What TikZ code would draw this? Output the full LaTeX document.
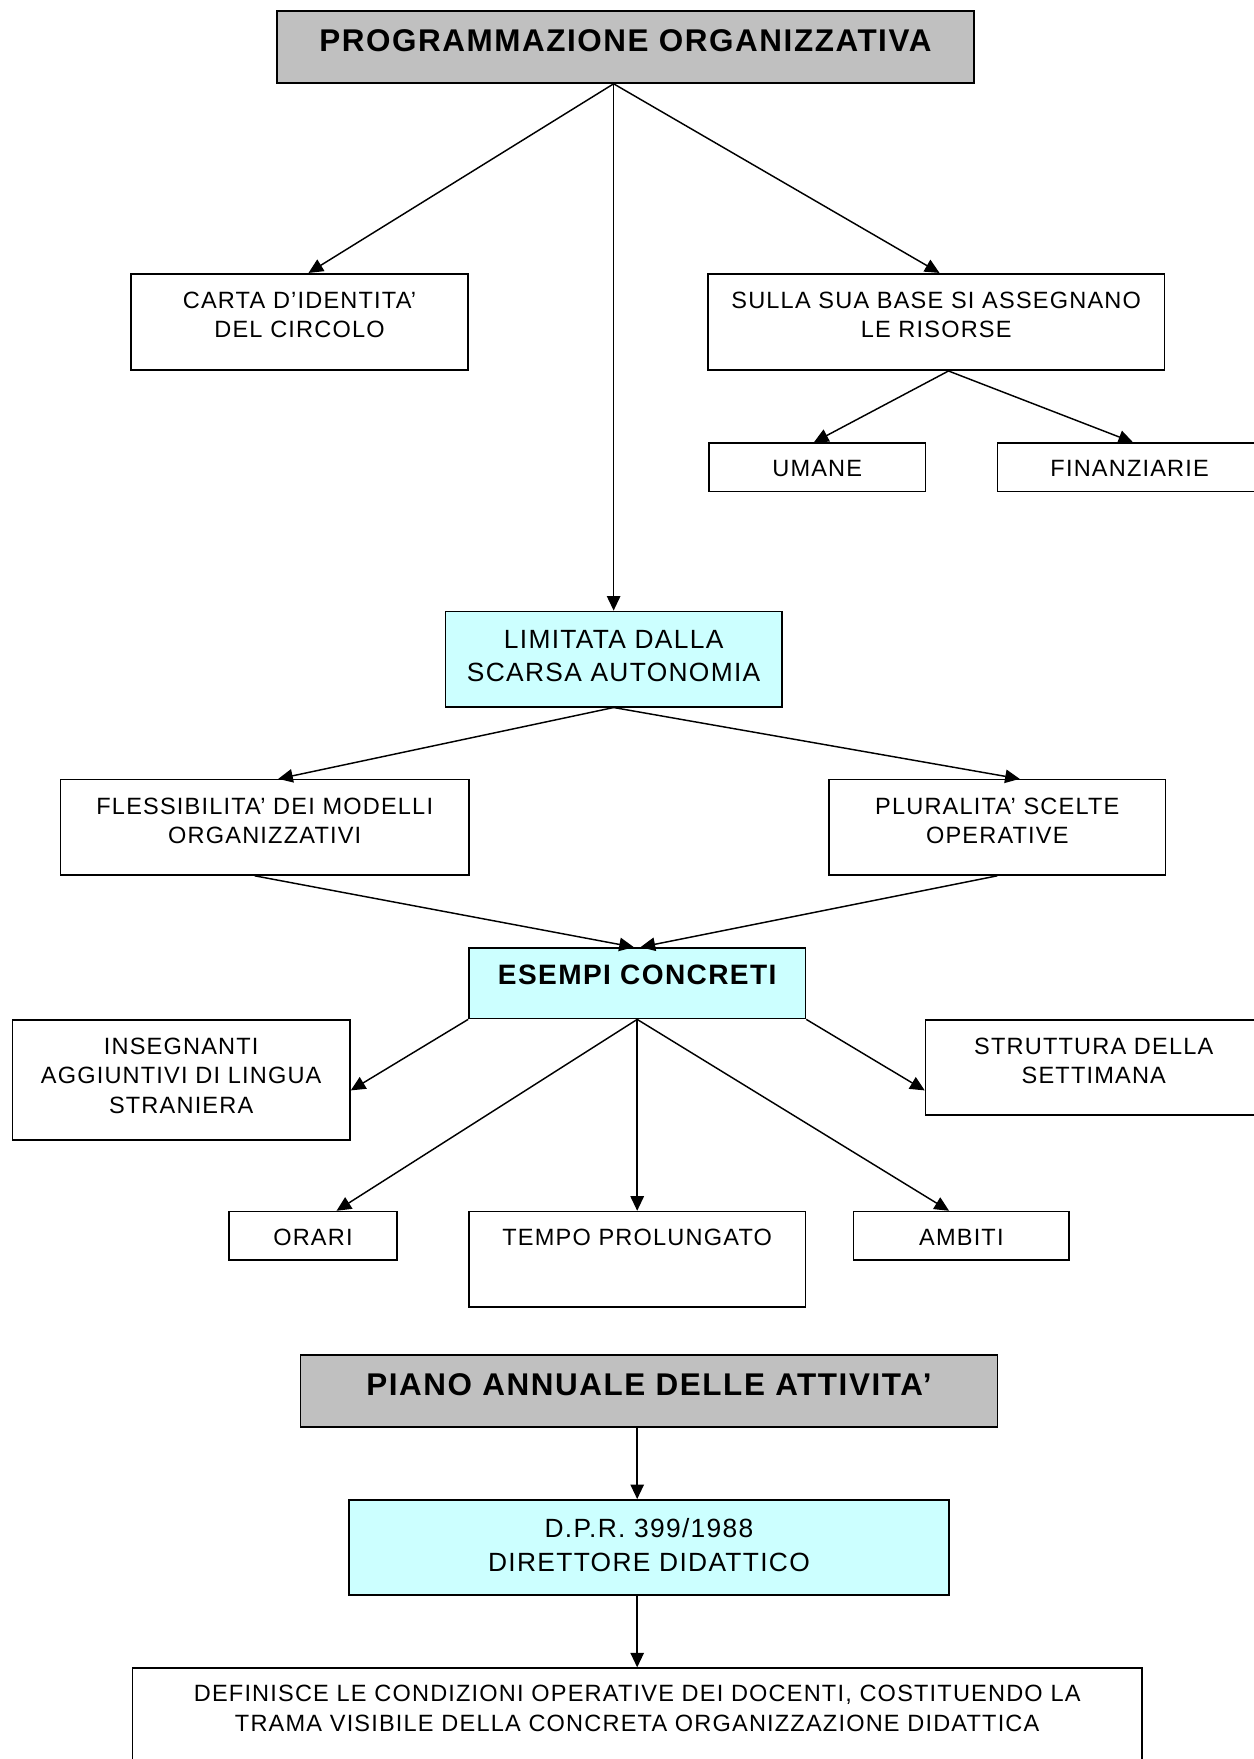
\documentclass[tikz,border=0pt]{standalone}
\usepackage{fontspec}
\setmainfont{Liberation Sans}[LetterSpace=5]
\usetikzlibrary{positioning,calc,arrows.meta}

\tikzset{
  box/.style={draw, line width=1.4pt, inner sep=0pt},
  greybox/.style={box, fill={rgb, 255:red, 192; green, 192; blue, 192 }},
  cyanbox/.style={box, fill={rgb, 255:red, 204; green, 255; blue, 255 }},
  txt/.style={inner sep=0pt, align=center, font=\fontsize{21}{26}\selectfont},
  bigtxt/.style={txt, font=\fontsize{23.5}{30}\selectfont},
  headtxt/.style={txt, font=\fontsize{28}{34}\selectfont\bfseries},
  link/.style={line width=1.3pt, -{Triangle[length=13pt,width=12pt]}}
}

\begin{document}
\begin{tikzpicture}[x=1pt,y=1pt,yscale=-1,xscale=1]
\useasboundingbox (0,0) rectangle (1117,1568);

%Shape: Rectangle [programmazione]
\node[greybox, minimum width=621pt, minimum height=64pt] (prog) at (557.5,42) {};
% Text Node
\node[headtxt, below=17pt of prog.north] (progT) {PROGRAMMAZIONE ORGANIZZATIVA};

%Shape: Rectangle [carta]
\node[box, minimum width=300pt, minimum height=86pt] (carta) at (267,287) {};
% Text Node
\node[txt, below=17pt of carta.north] (cartaT) {CARTA D’IDENTITA’\\DEL CIRCOLO};

%Shape: Rectangle [risorse]
\node[box, minimum width=407pt, minimum height=86pt] (risorse) at (834.5,287) {};
% Text Node
\node[txt, below=17pt of risorse.north] (risorseT) {SULLA SUA BASE SI ASSEGNANO\\LE RISORSE};

%Shape: Rectangle [umane]
\node[box, minimum width=193pt, minimum height=43pt] (umane) at (728.5,416.5) {};
% Text Node
\node[txt, below=16pt of umane.north] (umaneT) {UMANE};

%Shape: Rectangle [finanziarie]
\node[box, minimum width=236pt, minimum height=43pt] (finanz) at (1007,416.5) {};
% Text Node
\node[txt, below=16pt of finanz.north] (finanzT) {FINANZIARIE};

%Shape: Rectangle [limitata]
\node[cyanbox, minimum width=300pt, minimum height=85pt] (limit) at (547,587.5) {};
% Text Node
\node[bigtxt, below=17pt of limit.north] (limitT) {LIMITATA DALLA\\SCARSA AUTONOMIA};

%Shape: Rectangle [flessibilita]
\node[box, minimum width=364pt, minimum height=85pt] (fless) at (236,737.5) {};
% Text Node
\node[txt, below=17pt of fless.north] (flessT) {FLESSIBILITA’ DEI MODELLI\\ORGANIZZATIVI};

%Shape: Rectangle [pluralita]
\node[box, minimum width=300pt, minimum height=85pt] (plural) at (889,737.5) {};
% Text Node
\node[txt, below=17pt of plural.north] (pluralT) {PLURALITA’ SCELTE\\OPERATIVE};

%Shape: Rectangle [esempi]
\node[cyanbox, minimum width=300pt, minimum height=63pt] (esempi) at (568,876.5) {};
% Text Node
\node[txt, font=\fontsize{25}{30}\selectfont\bfseries, below=16pt of esempi.north] (esempiT) {ESEMPI CONCRETI};

%Shape: Rectangle [insegnanti]
\node[box, minimum width=301pt, minimum height=107pt] (insegn) at (161.5,962.5) {};
% Text Node
\node[txt, below=17pt of insegn.north] (insegnT) {INSEGNANTI\\AGGIUNTIVI DI LINGUA\\STRANIERA};

%Shape: Rectangle [struttura]
\node[box, minimum width=300pt, minimum height=85pt] (strutt) at (975,951.5) {};
% Text Node
\node[txt, below=17pt of strutt.north] (struttT) {STRUTTURA DELLA\\SETTIMANA};

%Shape: Rectangle [orari]
\node[box, minimum width=150pt, minimum height=43pt] (orari) at (279,1101.5) {};
% Text Node
\node[txt, below=16pt of orari.north] (orariT) {ORARI};

%Shape: Rectangle [tempo]
\node[box, minimum width=300pt, minimum height=85pt] (tempo) at (568,1122.5) {};
% Text Node
\node[txt, below=16pt of tempo.north] (tempoT) {TEMPO PROLUNGATO};

%Shape: Rectangle [ambiti]
\node[box, minimum width=192pt, minimum height=43pt] (ambiti) at (857,1101.5) {};
% Text Node
\node[txt, below=16pt of ambiti.north] (ambitiT) {AMBITI};

%Shape: Rectangle [piano]
\node[greybox, minimum width=621pt, minimum height=64pt] (piano) at (578.5,1240) {};
% Text Node
\node[headtxt, below=17pt of piano.north] (pianoT) {PIANO ANNUALE DELLE ATTIVITA’};

%Shape: Rectangle [dpr]
\node[cyanbox, minimum width=535pt, minimum height=85pt] (dpr) at (578.5,1379.5) {};
% Text Node
\node[bigtxt, below=17pt of dpr.north] (dprT) {D.P.R. 399/1988\\DIRETTORE DIDATTICO};

%Shape: Rectangle [definisce]
\node[box, minimum width=900pt, minimum height=90pt] (defin) at (568,1532) {};
% Text Node
\node[txt, below=16pt of defin.north] (definT) {DEFINISCE LE CONDIZIONI OPERATIVE DEI DOCENTI, COSTITUENDO LA\\TRAMA VISIBILE DELLA CONCRETA ORGANIZZAZIONE DIDATTICA};

%Straight Lines [arrows]
\draw[link] (limit.north |- prog.south) -- ($(carta.north)+(8,0)$);
\draw[link] (limit.north |- prog.south) -- ($(risorse.north)+(3,0)$);
\draw[link] (limit.north |- prog.south) -- (limit.north);
\draw[link] ($(risorse.south)+(11,0)$) -- ($(umane.north)+(-3,0)$);
\draw[link] ($(risorse.south)+(11,0)$) -- ($(finanz.north)+(3,0)$);
\draw[link] (limit.south) -- ($(fless.north)+(12,0)$);
\draw[link] (limit.south) -- ($(plural.north)+(20,0)$);
\draw[link] ($(fless.south)+(-9,0)$) -- ($(esempi.north)+(-3,0)$);
\draw[link] (plural.south) -- ($(esempi.north)+(3,0)$);
\draw[link] (esempi.south west) -- ($(insegn.east)+(0,9.5)$);
\draw[link] (esempi.south east) -- ($(strutt.west)+(0,20.5)$);
\draw[link] (esempi.south) -- ($(orari.north)+(21,0)$);
\draw[link] (esempi.south) -- (tempo.north);
\draw[link] (esempi.south) -- ($(ambiti.north)+(-11,0)$);
\draw[link] (defin.north |- piano.south) -- (defin.north |- dpr.north);
\draw[link] (defin.north |- dpr.south) -- (defin.north);

\end{tikzpicture}
\end{document}
